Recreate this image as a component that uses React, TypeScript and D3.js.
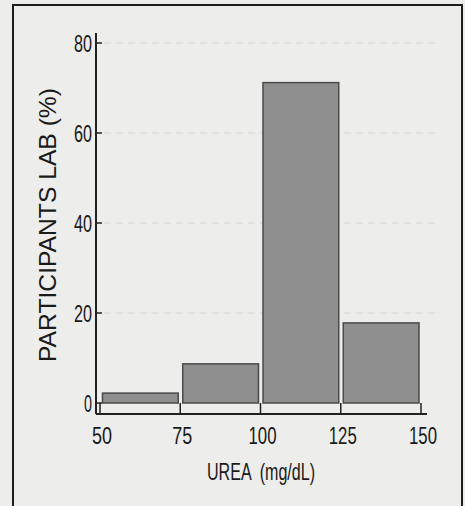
import React from "react";
import * as d3 from "d3";

const binStarts = [50, 75, 100, 125];
const binEnds = [75, 100, 125, 150];
const percents = [2.2, 8.7, 71.2, 17.8];
const xTicks = [50, 75, 100, 125, 150];
const yTicks = [0, 20, 40, 60, 80];
const xTitle = "UREA  (mg/dL)";
const yTitle = "PARTICIPANTS LAB (%)";

export default function App() {
  const W = 465, H = 506;
  const x = d3.scaleLinear().domain([50, 150]).range([100, 421]);
  const y = d3.scaleLinear().domain([0, 80]).range([403, 43]);
  const baseY = 414;
  const axisX = 96;
  const narrow = "'Liberation Sans Narrow', 'Arial Narrow', 'Liberation Sans', Arial, sans-serif";
  const lenFor = (t: number) => String(t).length === 1 ? 10 : String(t).length === 2 ? 20 : 28;
  return (
    <svg width={W} height={H} style={{ position: "absolute", left: 0, top: 0, background: "#ededeb" }}>
      <rect x={0} y={0} width={W} height={H} fill="#ededeb" />
      <rect x={13} y={5} width={449} height={530} fill="none" stroke="#1e1e1e" strokeWidth={2} />
      {yTicks.filter(t => t > 0).map(t => (
        <line key={"g" + t} x1={axisX + 8} x2={440} y1={y(t)} y2={y(t)} stroke="#d6d6d4" strokeWidth={1} strokeDasharray="7 5" />
      ))}
      {binStarts.map((s, i) => (
        <rect key={"b" + i} x={x(s) + 2.5} y={y(percents[i])} width={x(binEnds[i]) - x(s) - 4.5}
          height={y(0) - y(percents[i])} fill="#8f8f8f" stroke="#4a4a4a" strokeWidth={1.5} />
      ))}
      <line x1={axisX} x2={axisX} y1={33} y2={baseY} stroke="#222" strokeWidth={2} />
      <line x1={axisX} x2={427} y1={baseY} y2={baseY} stroke="#222" strokeWidth={2} />
      {yTicks.map(t => (
        <g key={"y" + t}>
          <line x1={axisX} x2={axisX + 6} y1={y(t)} y2={y(t)} stroke="#222" strokeWidth={1.5} />
          <text x={92} y={y(t)} dy="0.36em" textAnchor="end" fontFamily={narrow} fontSize={24} fill="#1a1a1a"
            textLength={lenFor(t) - 2} lengthAdjust="spacingAndGlyphs">{t}</text>
        </g>
      ))}
      {xTicks.map(t => (
        <g key={"x" + t}>
          <line x1={x(t)} x2={x(t)} y1={y(0)} y2={baseY} stroke="#222" strokeWidth={1.5} />
          <text x={x(t) + 2} y={444} textAnchor="middle" fontFamily={narrow} fontSize={24} fill="#1a1a1a"
            textLength={lenFor(t)} lengthAdjust="spacingAndGlyphs">{t}</text>
        </g>
      ))}
      <text x={261} y={480} textAnchor="middle" fontFamily={narrow} fontSize={24} fill="#1a1a1a"
        xmlSpace="preserve" textLength={108} lengthAdjust="spacingAndGlyphs">{xTitle}</text>
      <text transform={`translate(56,225) rotate(-90)`} textAnchor="middle" fontFamily="'Liberation Sans', Arial, sans-serif"
        fontSize={24} fill="#1a1a1a" textLength={274} lengthAdjust="spacingAndGlyphs">{yTitle}</text>
    </svg>
  );
}
